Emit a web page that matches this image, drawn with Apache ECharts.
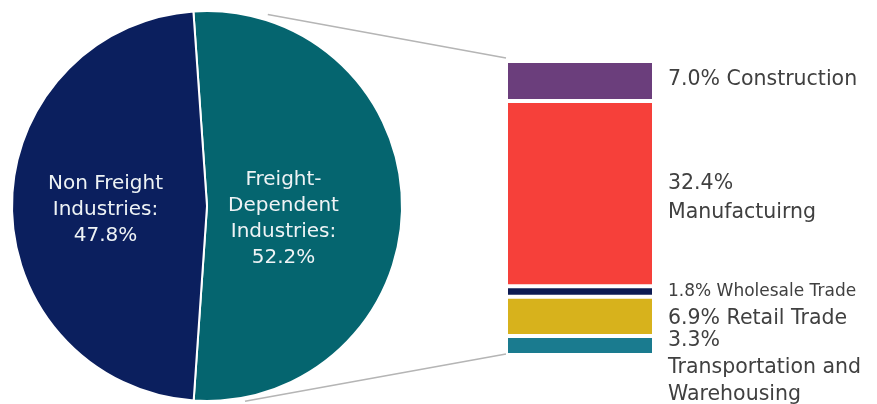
<!DOCTYPE html>
<html><head><meta charset="utf-8">
<script src="https://cdn.jsdelivr.net/npm/echarts@6/dist/echarts.min.js"></script>
<style>html,body{margin:0;padding:0;background:#fff}#c{width:877px;height:404px}</style>
</head><body><div id="c"></div>
<script>
// ---- data ----
const pieNames = ['Freight-\nDependent\nIndustries:', 'Non Freight\nIndustries:'];
const pieValues = [52.2, 47.8];
const pieColors = ['#05656f', '#0b1f5e'];

// bottom to top of the stacked bar
const barNames = ['Transportation and\nWarehousing', 'Retail Trade', 'Wholesale Trade', 'Manufactuirng', 'Construction'];
const barValues = [3.3, 6.9, 1.8, 32.4, 7.0];
const barSeparators = ['\n', ' ', ' ', '\n', ' '];
const barColors = ['#1a7b8f', '#d7b21c', '#0c1a52', '#f6403a', '#6b3e7c'];

// ---- layout ----
const FONT = 'DejaVu Sans';
const pieCenter = [207, 206], pieR = 195;
const grid = {left: 506, top: 61, width: 148, height: 294};
const barTotal = barValues.reduce((a, b) => a + b, 0);
const barLabelOffsets = [[0, 22], [0, 2], [0, 0], [0, 4], [0, -1]];
const barLabelSizes = [20.5, 20.5, 17, 20.5, 20.5];
const barLabelLH = [27, 26, 20, 29, 26];
const pieLabelOffsets = [[-24, 13], [-1, 4]];

const chart = echarts.init(document.getElementById('c'), null, {renderer: 'canvas'});

const barSeries = barNames.map((n, i) => ({
  type: 'bar', name: n, stack: 'freight', barWidth: grid.width,
  data: [barValues[i]],
  itemStyle: {color: barColors[i], borderColor: '#fff', borderWidth: 2},
  label: {
    show: true, position: 'right', distance: 14, offset: barLabelOffsets[i],
    color: '#404040', fontFamily: FONT, fontSize: barLabelSizes[i], lineHeight: barLabelLH[i],
    align: 'left',
    formatter: p => p.value.toFixed(1) + '%' + barSeparators[i] + n
  },
  emphasis: {disabled: true}, animation: false, z: 3
}));

function connectors() {
  const topY = grid.top, botY = grid.top + grid.height, x = grid.left;
  const p = (deg, extra) => {
    const a = deg * Math.PI / 180;
    return [pieCenter[0] + (pieR + extra) * Math.sin(a), pieCenter[1] - (pieR + extra) * Math.cos(a)];
  };
  const t = p(17.6, 6), b = p(169, 4);
  const style = {stroke: '#b5b5b5', lineWidth: 1.5};
  return [
    {type: 'line', z: 1, shape: {x1: t[0], y1: t[1], x2: x, y2: topY - 3}, style},
    {type: 'line', z: 1, shape: {x1: b[0], y1: b[1], x2: x, y2: botY - 1}, style}
  ];
}

chart.setOption({
  animation: false,
  backgroundColor: '#fff',
  grid: Object.assign({}, grid),
  xAxis: {type: 'category', data: ['Freight'], show: false},
  yAxis: {type: 'value', min: 0, max: barTotal, show: false},
  graphic: connectors(),
  series: [
    {
      type: 'pie', center: pieCenter, radius: pieR, startAngle: 94, clockwise: true,
      animation: false, z: 2,
      itemStyle: {borderColor: '#fff', borderWidth: 2},
      emphasis: {disabled: true},
      label: {show: true, position: 'inside', color: '#eef3f5', fontFamily: FONT, fontSize: 20, lineHeight: 26, align: 'center'},
      labelLine: {show: false},
      data: pieNames.map((n, i) => ({
        name: n, value: pieValues[i], itemStyle: {color: pieColors[i]},
        label: {offset: pieLabelOffsets[i], formatter: p => p.name + '\n' + p.value.toFixed(1) + '%'}
      }))
    }
  ].concat(barSeries)
});
</script></body></html>
